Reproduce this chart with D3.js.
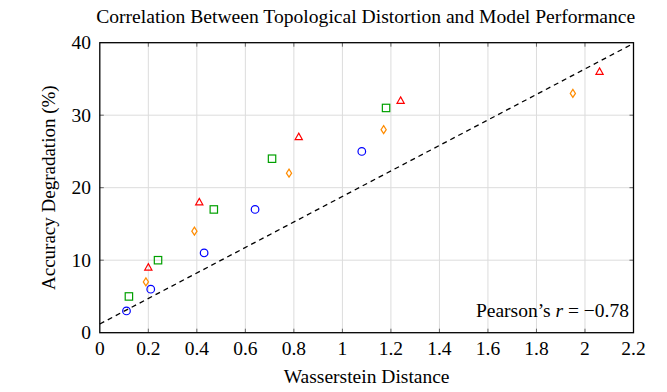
<!DOCTYPE html>
<html>
<head>
<meta charset="utf-8">
<script src="https://cdn.jsdelivr.net/npm/d3@7"></script>
<style>
  body { margin: 0; background: #fff; }
  text { font-family: "Liberation Serif", "Times New Roman", serif; fill: #000; }
</style>
</head>
<body>
<div id="chart"></div>
<script>
// Datos
const circleX = [0.11, 0.21, 0.43, 0.64, 1.08];
const circleY = [3, 6, 11, 17, 25];
const squareX = [0.12, 0.24, 0.47, 0.71, 1.18];
const squareY = [5, 10, 17, 24, 31];
const diamondX = [0.19, 0.39, 0.78, 1.17, 1.95];
const diamondY = [7, 14, 22, 28, 33];
const triangleX = [0.20, 0.41, 0.82, 1.24, 2.06];
const triangleY = [9, 18, 27, 32, 36];
const fitX = [0, 2.2];
const fitY = [1.2, 39.9];
const xTicks = [0, 0.2, 0.4, 0.6, 0.8, 1, 1.2, 1.4, 1.6, 1.8, 2, 2.2];
const yTicks = [0, 10, 20, 30, 40];

const width = 667, height = 392;
const margin = { left: 99.8, right: 667 - 633.5, top: 42.7, bottom: 392 - 332.7 };

const svg = d3.select("#chart").append("svg")
  .attr("width", width).attr("height", height);

const x = d3.scaleLinear().domain([0, 2.2]).range([margin.left, width - margin.right]);
const y = d3.scaleLinear().domain([0, 40]).range([height - margin.bottom, margin.top]);

// Rejilla
const inner = xTicks.filter(d => d > 0 && d < 2.2);
svg.append("g").selectAll("line").data(inner).join("line")
  .attr("x1", d => x(d)).attr("x2", d => x(d))
  .attr("y1", y(0)).attr("y2", y(40))
  .attr("stroke", "#dcdcdc").attr("stroke-width", 1);
svg.append("g").selectAll("line").data(yTicks.slice(1, -1)).join("line")
  .attr("y1", d => y(d)).attr("y2", d => y(d))
  .attr("x1", x(0)).attr("x2", x(2.2))
  .attr("stroke", "#dcdcdc").attr("stroke-width", 1);

// Marcas de los ejes (hacia dentro, en los cuatro lados)
const tk = 4;
const ticks = svg.append("g").attr("stroke", "#666").attr("stroke-width", 1);
inner.forEach(d => {
  ticks.append("line").attr("x1", x(d)).attr("x2", x(d)).attr("y1", y(0)).attr("y2", y(0) - tk);
  ticks.append("line").attr("x1", x(d)).attr("x2", x(d)).attr("y1", y(40)).attr("y2", y(40) + tk);
});
yTicks.slice(1, -1).forEach(d => {
  ticks.append("line").attr("y1", y(d)).attr("y2", y(d)).attr("x1", x(0)).attr("x2", x(0) + tk);
  ticks.append("line").attr("y1", y(d)).attr("y2", y(d)).attr("x1", x(2.2)).attr("x2", x(2.2) - tk);
});

// Etiquetas de los ejes
const fmt = d => d === 0 ? "0" : String(+d.toFixed(1));
svg.append("g").selectAll("text").data(xTicks).join("text")
  .attr("x", d => x(d)).attr("y", 355)
  .attr("text-anchor", "middle").attr("font-size", 19.5)
  .text(fmt);
svg.append("g").selectAll("text").data(yTicks).join("text")
  .attr("x", 91).attr("y", d => y(d) + 6.5)
  .attr("text-anchor", "end").attr("font-size", 19.5)
  .text(d => d);

// Línea de ajuste
svg.append("line")
  .attr("x1", x(fitX[0])).attr("y1", y(fitY[0]))
  .attr("x2", x(fitX[1])).attr("y2", y(fitY[1]))
  .attr("stroke", "#000").attr("stroke-width", 1.3)
  .attr("stroke-dasharray", "5,4");

// Series
const sw = 1.2;
svg.append("g").selectAll("circle").data(circleX).join("circle")
  .attr("cx", d => x(d)).attr("cy", (d, i) => y(circleY[i])).attr("r", 3.8)
  .attr("fill", "none").attr("stroke", "#0000ff").attr("stroke-width", sw);

svg.append("g").selectAll("rect").data(squareX).join("rect")
  .attr("x", d => x(d) - 3.7).attr("y", (d, i) => y(squareY[i]) - 3.7)
  .attr("width", 7.4).attr("height", 7.4)
  .attr("fill", "none").attr("stroke", "#00a000").attr("stroke-width", sw);

svg.append("g").selectAll("path").data(diamondX).join("path")
  .attr("transform", (d, i) => `translate(${x(d)},${y(diamondY[i])})`)
  .attr("d", "M0,-4 L2.6,0 L0,4 L-2.6,0 Z")
  .attr("fill", "none").attr("stroke", "#ff8c00").attr("stroke-width", sw);

svg.append("g").selectAll("path").data(triangleX).join("path")
  .attr("transform", (d, i) => `translate(${x(d)},${y(triangleY[i])})`)
  .attr("d", "M0,-3.8 L3.6,2.6 L-3.6,2.6 Z")
  .attr("fill", "none").attr("stroke", "#ff0000").attr("stroke-width", sw);

// Marco
svg.append("rect")
  .attr("x", x(0)).attr("y", y(40))
  .attr("width", x(2.2) - x(0)).attr("height", y(0) - y(40))
  .attr("fill", "none").attr("stroke", "#000").attr("stroke-width", 1.3);

// Anotación
const ann = svg.append("text")
  .attr("x", 629).attr("y", 317)
  .attr("text-anchor", "end").attr("font-size", 19.5);
ann.append("tspan").text("Pearson’s ");
ann.append("tspan").attr("font-style", "italic").text("r");
ann.append("tspan").text(" = −0.78");

// Títulos
svg.append("text")
  .attr("x", 365.7).attr("y", 22.7)
  .attr("text-anchor", "middle").attr("font-size", 19.6)
  .text("Correlation Between Topological Distortion and Model Performance");

svg.append("text")
  .attr("x", (x(0) + x(2.2)) / 2).attr("y", 382.5)
  .attr("text-anchor", "middle").attr("font-size", 19.5)
  .text("Wasserstein Distance");

svg.append("text")
  .attr("transform", `translate(55,${(y(0) + y(40)) / 2}) rotate(-90)`)
  .attr("text-anchor", "middle").attr("font-size", 19)
  .text("Accuracy Degradation (%)");
</script>
</body>
</html>
